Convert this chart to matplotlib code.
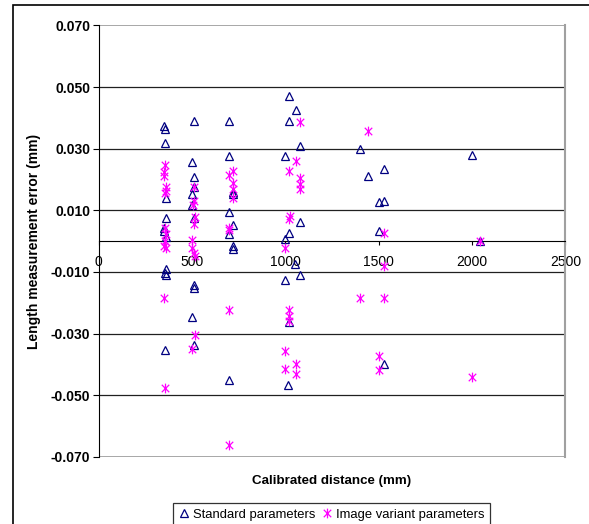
import matplotlib
matplotlib.use("Agg")
import matplotlib.pyplot as plt
from matplotlib.path import Path
from matplotlib.patches import Rectangle
from matplotlib.lines import Line2D

plt.rcParams['font.family'] = ['Liberation Sans', 'DejaVu Sans']

# Standard parameters (distance mm, error mm)
std_x = [350, 355, 355, 360, 360, 350, 350, 360, 360, 355, 360, 355,
         510, 500, 510, 510, 500, 500, 510, 510, 510, 500, 510,
         700, 700, 720, 720, 700, 720, 700, 720, 720, 700,
         1020, 1055, 1020, 1080, 1000, 1080, 1020, 1000, 1050, 1080, 1000, 1020, 1015,
         1400, 1440, 1530, 1500, 1530, 1500, 1530,
         2000, 2040]
std_y = [0.0374, 0.0363, 0.0319, 0.0139, 0.0075, 0.0042, 0.0034, 0.0012, -0.0091, -0.0102, -0.0110, -0.0354,
         0.0389, 0.0257, 0.0207, 0.0177, 0.0153, 0.0118, 0.0075, -0.0142, -0.0153, -0.0246, -0.0338,
         0.0389, 0.0275, 0.0161, 0.0153, 0.0093, 0.0052, 0.0023, -0.0015, -0.0026, -0.0451,
         0.0470, 0.0426, 0.0389, 0.0310, 0.0275, 0.0061, 0.0026, 0.0007, -0.0075, -0.0110, -0.0126, -0.0261, -0.0467,
         0.0298, 0.0210, 0.0233, 0.0127, 0.0129, 0.0034, -0.0400,
         0.0281, 0.0000]

# Image variant parameters
img_x = [355, 350, 350, 360, 360, 355, 355, 360, 355, 350, 360, 350, 355,
         510, 510, 505, 515, 510, 500, 500, 510, 515, 515, 500,
         720, 700, 720, 720, 720, 700, 700, 700, 700,
         1080, 1055, 1020, 1080, 1080, 1080, 1025, 1020, 1000, 1020, 1020, 1020, 1000, 1055, 1000, 1055,
         1440, 1530, 1530, 1400, 1530, 1500, 1500,
         2040, 2000]
img_y = [0.0246, 0.0223, 0.0210, 0.0175, 0.0162, 0.0155, 0.0044, 0.0023, 0.0001, -0.0015, -0.0023, -0.0183, -0.0478,
         0.0177, 0.0131, 0.0118, 0.0079, 0.0055, 0.0003, -0.0021, -0.0037, -0.0048, -0.0306, -0.0351,
         0.0226, 0.0214, 0.0188, 0.0168, 0.0139, 0.0044, 0.0036, -0.0225, -0.0661,
         0.0385, 0.0261, 0.0226, 0.0204, 0.0185, 0.0168, 0.0082, 0.0072, -0.0023, -0.0223, -0.0243, -0.0259, -0.0355, -0.0400, -0.0416, -0.0431,
         0.0356, 0.0025, -0.0082, -0.0185, -0.0183, -0.0373, -0.0418,
         0.0002, -0.0440]

x_ticks = [0, 500, 1000, 1500, 2000, 2500]
y_ticks = [-0.07, -0.05, -0.03, -0.01, 0.01, 0.03, 0.05, 0.07]


def _star_marker():
    '''Excel style star: an x with a vertical stroke through it'''
    verts = [(-1, -1), (1, 1), (-1, 1), (1, -1), (0, -1.3), (0, 1.3)]
    codes = [Path.MOVETO, Path.LINETO] * 3
    return Path(verts, codes)


fig = plt.figure(figsize=(5.89, 5.24), dpi=100)
ax = fig.add_axes([98.8 / 589, 1 - 456.9 / 524, (565.4 - 98.8) / 589, (456.9 - 25.4) / 524])

# outer chart border
fig.patches.append(Rectangle((13 / 589, -0.2), 1.2, 1 - 5 / 524 + 0.2, transform=fig.transFigure,
                             fill=False, edgecolor='black', lw=1.2))

for yv in y_ticks:
    col = '#a0a0a0' if yv in (-0.07, 0.07) else '#202020'
    ax.axhline(yv, color=col, lw=1.3 if yv in (-0.07, 0.07) else 0.9, zorder=1)

ax.plot(std_x, std_y, linestyle='none', marker='^', markersize=6, markerfacecolor='none',
        markeredgecolor='#000080', markeredgewidth=0.9, zorder=3)
star = _star_marker()
ax.plot(img_x, img_y, linestyle='none', marker=star, markersize=7, markerfacecolor='none',
        markeredgecolor='#ff00ff', markeredgewidth=0.9, zorder=3)

ax.set_xlim(0, 2500)
ax.set_ylim(-0.07, 0.07)
ax.set_xticks(x_ticks)
ax.set_yticks(y_ticks)
ax.set_yticklabels(['%.3f' % v for v in y_ticks], fontweight='bold', fontsize=10)
ax.set_xticklabels([str(v) for v in x_ticks], fontweight='bold', fontsize=9.5)

ax.spines['bottom'].set_position(('data', 0))
ax.spines['bottom'].set_color('black')
ax.spines['left'].set_color('black')
ax.spines['top'].set_color('#a0a0a0')
ax.spines['right'].set_color('#a0a0a0')
ax.spines['right'].set_linewidth(1.5)
ax.spines['top'].set_visible(False)
ax.tick_params(axis='y', direction='out', length=4, pad=2, colors='black')
ax.tick_params(axis='x', direction='out', length=3, pad=7, colors='black')

ax.set_ylabel('Length measurement error (mm)', fontweight='bold', fontsize=10, labelpad=7)
fig.text(332 / 589, 1 - 481 / 524, 'Calibrated distance (mm)', fontweight='bold', fontsize=9.6,
         ha='center', va='center')

handles = [Line2D([], [], linestyle='none', marker='^', markersize=6, markerfacecolor='none',
                  markeredgecolor='#000080', markeredgewidth=0.9),
           Line2D([], [], linestyle='none', marker=star, markersize=7, markerfacecolor='none',
                  markeredgecolor='#ff00ff', markeredgewidth=0.9)]
leg = fig.legend(handles, ['Standard parameters', 'Image variant parameters'], loc='upper center',
                 bbox_to_anchor=(331.5 / 589, 1 - 503 / 524), ncol=2, fontsize=9.4, fancybox=False,
                 handlelength=0.8, handletextpad=0.3, columnspacing=0.5, borderpad=0.45,
                 borderaxespad=0)
leg.get_frame().set_edgecolor('black')
leg.get_frame().set_linewidth(0.9)

fig.savefig('out.png', dpi=100)
